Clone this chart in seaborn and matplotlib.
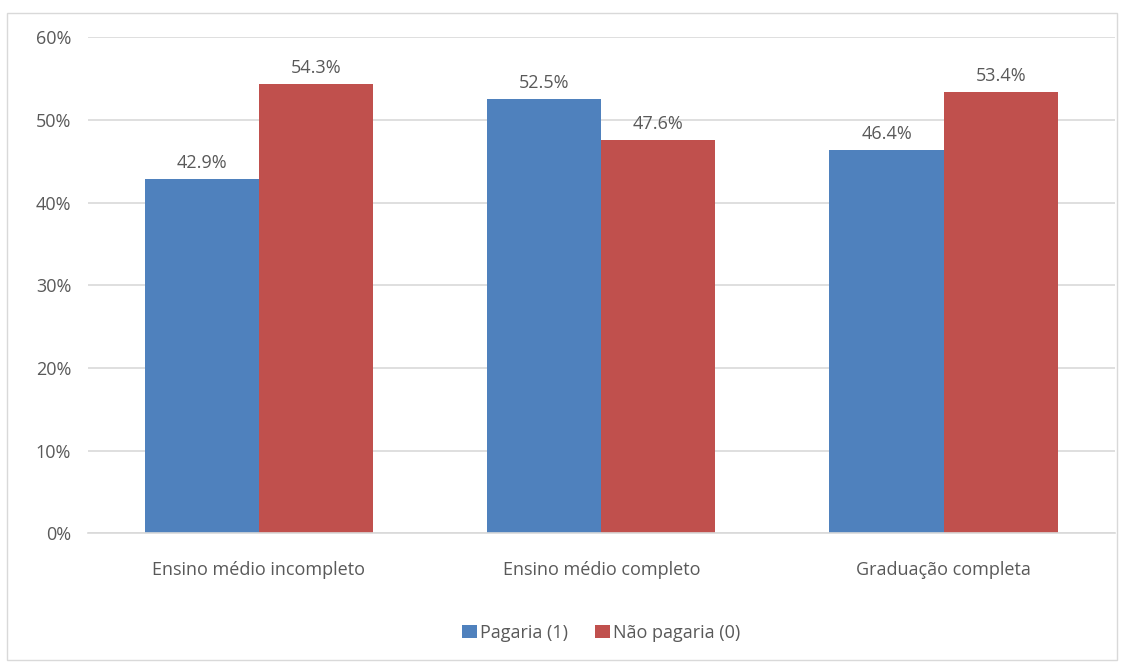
import pandas as pd
import numpy as np
import matplotlib
matplotlib.use('Agg')
import matplotlib.pyplot as plt
import seaborn as sns
from matplotlib.patches import Rectangle

# Dados do gráfico
categorias = ['Ensino médio incompleto', 'Ensino médio completo', 'Graduação completa']
pagaria = [42.9, 52.5, 46.4]
nao_pagaria = [54.3, 47.6, 53.4]
series = ['Pagaria (1)', 'Não pagaria (0)']
cores = ['#4F81BD', '#C0504D']

df = pd.DataFrame({
    'categoria': categorias * 2,
    'valor': pagaria + nao_pagaria,
    'serie': [series[0]] * 3 + [series[1]] * 3,
})

sns.set_style('white')
plt.rcParams['font.family'] = ['Open Sans', 'DejaVu Sans']
cinza = '#595959'

fig = plt.figure(figsize=(11.26, 6.64), dpi=100)
ax = fig.add_axes([0.078, 0.197, 0.912, 0.747])

sns.barplot(data=df, x='categoria', y='valor', hue='serie', palette=cores,
            width=0.667, saturation=1, linewidth=0, ax=ax, legend=True)

for cont in ax.containers:
    ax.bar_label(cont, labels=[f'{v:.1f}%' for v in cont.datavalues],
                 padding=5, fontsize=13, color=cinza)

ax.set_ylim(0, 60)
ax.set_yticks(np.arange(0, 61, 10))
ax.set_yticklabels([f'{t}%' for t in range(0, 61, 10)])
ax.yaxis.grid(True, color='#D9D9D9', linewidth=1.2)
ax.set_axisbelow(True)
for s in ['top', 'right', 'left']:
    ax.spines[s].set_visible(False)
ax.spines['bottom'].set_color('#D9D9D9')
ax.spines['bottom'].set_linewidth(1.2)
ax.tick_params(axis='both', length=0, labelsize=13, colors=cinza)
ax.tick_params(axis='x', pad=20)
ax.tick_params(axis='y', pad=12)
ax.set_xlabel('')
ax.set_ylabel('')

ax.legend(loc='upper center', bbox_to_anchor=(0.5, -0.15), ncol=2, frameon=False,
          fontsize=13, labelcolor=cinza, handlelength=0.8, handleheight=0.8,
          handletextpad=0.2, columnspacing=1.5)

# moldura clara em volta da figura
fig.patches.append(Rectangle((0.006, 0.006), 0.986, 0.975, transform=fig.transFigure,
                             fill=False, edgecolor='#D9D9D9', linewidth=1))

fig.savefig('out.png', dpi=100)
